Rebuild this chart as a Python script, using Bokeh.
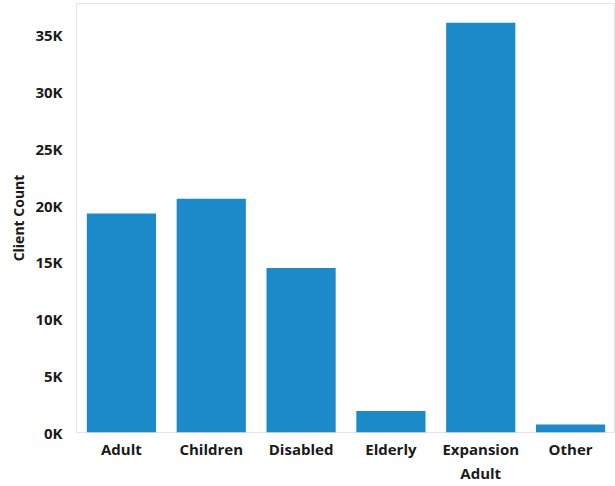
from bokeh.plotting import figure
from bokeh.models import Range1d, FixedTicker, ColumnDataSource, LinearAxis
from bokeh.embed import file_html
from bokeh.resources import INLINE

# Client counts by eligibility group
categories = ["Adult", "Children", "Disabled", "Elderly", "Expansion Adult", "Other"]
client_counts = [19300, 20600, 14500, 1900, 36100, 700]

# Y axis ticks and their labels
tick_values = [0, 5000, 10000, 15000, 20000, 25000, 30000, 35000]
tick_labels = ["0K", "5K", "10K", "15K", "20K", "25K", "30K", "35K"]

BAR_COLOR = "#1C8AC9"
TEXT_COLOR = "#1a1a1a"
FONT = "Open Sans"

# Each category sits in a unit-wide slot; long names wrap onto a second line
slot_centers = [i + 0.5 for i in range(len(categories))]
first_lines = [c.split(" ", 1)[0] for c in categories]
second_lines = [c.split(" ", 1)[1] if " " in c else " " for c in categories]

source = ColumnDataSource(data=dict(x=slot_centers, count=client_counts))

p = figure(
    x_range=Range1d(0, len(categories)),
    y_range=Range1d(0, 37800),
    width=615,
    height=486,
    output_backend="svg",
    toolbar_location=None,
    min_border_left=76,
    min_border_right=0,
    min_border_top=3,
    min_border_bottom=54,
    x_axis_location=None,
)

p.vbar(x="x", top="count", width=0.77, source=source,
       fill_color=BAR_COLOR, line_color=None)

p.background_fill_color = "white"
p.border_fill_color = "white"
p.outline_line_color = "#e4e4e4"
p.outline_line_width = 1
p.xgrid.grid_line_color = None
p.ygrid.grid_line_color = None

# Y axis
p.yaxis.ticker = FixedTicker(ticks=tick_values)
p.yaxis.major_label_overrides = dict(zip(tick_values, tick_labels))
p.yaxis.axis_line_color = None
p.yaxis.major_tick_line_color = None
p.yaxis.minor_tick_line_color = None
p.yaxis.major_label_text_font = FONT
p.yaxis.major_label_text_font_style = "bold"
p.yaxis.major_label_text_font_size = "15px"
p.yaxis.major_label_text_color = TEXT_COLOR
p.yaxis.major_label_standoff = 8
p.yaxis.axis_label = "Client Count"
p.yaxis.axis_label_text_font = FONT
p.yaxis.axis_label_text_font_style = "bold"
p.yaxis.axis_label_text_font_size = "14px"
p.yaxis.axis_label_text_color = TEXT_COLOR
p.yaxis.axis_label_standoff = 4


def category_axis(lines, standoff):
    axis = LinearAxis(ticker=FixedTicker(ticks=slot_centers))
    axis.major_label_overrides = dict(zip(slot_centers, lines))
    axis.axis_line_color = None
    axis.major_tick_line_color = None
    axis.minor_tick_line_color = None
    axis.major_tick_out = 0
    axis.major_tick_in = 0
    axis.major_label_text_font = FONT
    axis.major_label_text_font_style = "bold"
    axis.major_label_text_font_size = "15px"
    axis.major_label_text_color = TEXT_COLOR
    axis.major_label_standoff = standoff
    return axis


p.add_layout(category_axis(first_lines, 6), "below")
p.add_layout(category_axis(second_lines, 1), "below")

open("out.html", "w").write(file_html(p, INLINE))
